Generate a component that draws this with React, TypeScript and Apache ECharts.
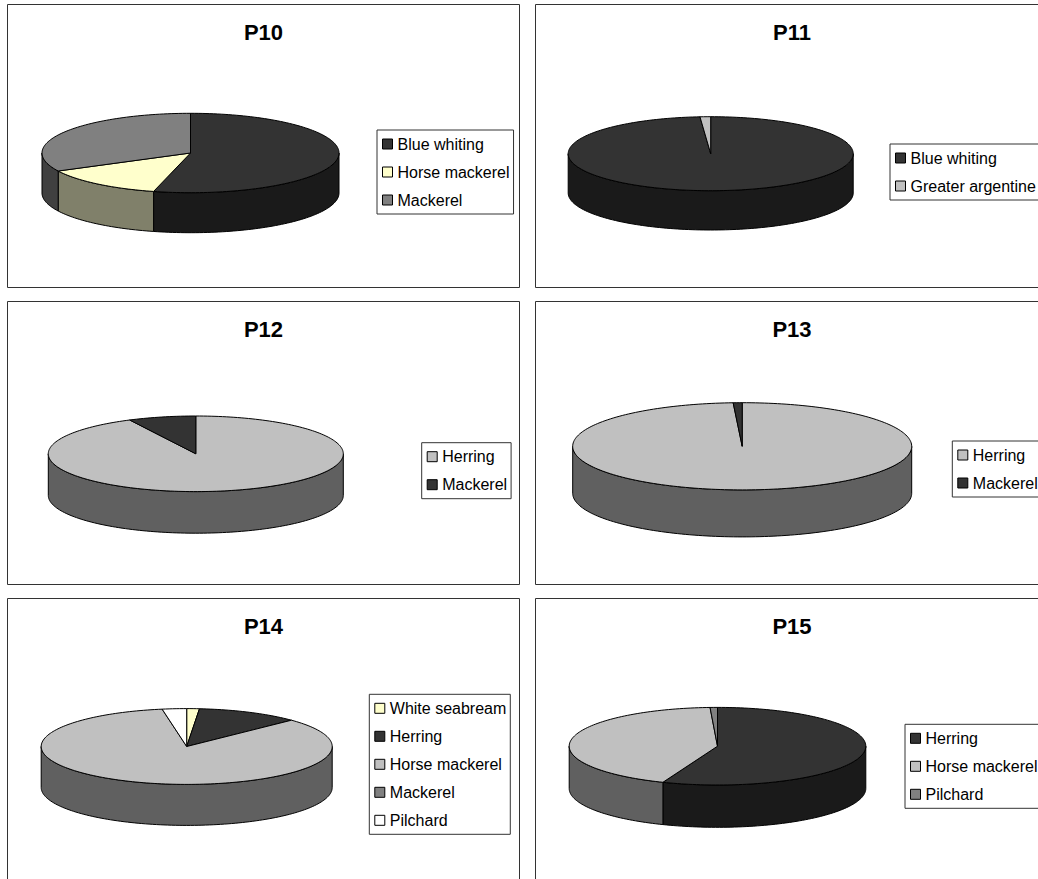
import { useEffect, useRef } from 'react';
import * as echarts from 'echarts';

// slice values (percent of catch)
const P10_NAMES = ['Blue whiting', 'Horse mackerel', 'Mackerel'];
const P10_VALUES = [54, 13.5, 32.5];
const P11_NAMES = ['Blue whiting', 'Greater argentine'];
const P11_VALUES = [98.8, 1.2];
const P12_NAMES = ['Herring', 'Mackerel'];
const P12_VALUES = [92.6, 7.4];
const P13_NAMES = ['Herring', 'Mackerel'];
const P13_VALUES = [99.15, 0.85];
const P14_NAMES = ['White seabream', 'Herring', 'Horse mackerel', 'Mackerel', 'Pilchard'];
const P14_VALUES = [1.4, 11.4, 84.5, 0, 2.7];
const P15_NAMES = ['Herring', 'Horse mackerel', 'Pilchard'];
const P15_VALUES = [56, 43.2, 0.8];

// Excel-like fills, and the darker shade used on the walls
const DARK = '#333333';
const YELLOW = '#ffffcc';
const GREY = '#808080';
const SILVER = '#c0c0c0';
const WHITE = '#ffffff';
const SIDE: Record<string, string> = {
  [DARK]: '#1a1a1a',
  [YELLOW]: '#80806a',
  [GREY]: '#404040',
  [SILVER]: '#606060',
  [WHITE]: '#808080',
};

const FONT = '"Liberation Sans", Arial, sans-serif';

interface PanelSpec {
  title: string;
  names: string[];
  values: number[];
  colors: string[];
  left: number;
  top: number;
  width: number;
  height: number;
  cx: number;
  cy: number;
  rx: number;
  ry: number;
  depth: number;
  legendLeft: number;
  legendTop: number;
}

const PANELS: PanelSpec[] = [
  { title: 'P10', names: P10_NAMES, values: P10_VALUES, colors: [DARK, YELLOW, GREY],
    left: 7, top: 4, width: 513, height: 284, cx: 183.5, cy: 149, rx: 148.5, ry: 39.7, depth: 40, legendLeft: 370, legendTop: 126 },
  { title: 'P11', names: P11_NAMES, values: P11_VALUES, colors: [DARK, SILVER],
    left: 535, top: 4, width: 514, height: 284, cx: 175.7, cy: 149.7, rx: 142.5, ry: 37, depth: 39.3, legendLeft: 355, legendTop: 140 },
  { title: 'P12', names: P12_NAMES, values: P12_VALUES, colors: [SILVER, DARK],
    left: 7, top: 301, width: 513, height: 284, cx: 188.8, cy: 152.8, rx: 147.5, ry: 37.8, depth: 41.6, legendLeft: 414.7, legendTop: 141.7 },
  { title: 'P13', names: P13_NAMES, values: P13_VALUES, colors: [SILVER, DARK],
    left: 535, top: 301, width: 514, height: 284, cx: 207.2, cy: 145.3, rx: 169.5, ry: 43.6, depth: 47, legendLeft: 417.3, legendTop: 140 },
  { title: 'P14', names: P14_NAMES, values: P14_VALUES, colors: [YELLOW, DARK, SILVER, GREY, WHITE],
    left: 7, top: 598, width: 513, height: 284, cx: 179.7, cy: 148.5, rx: 145.5, ry: 37.9, depth: 41, legendLeft: 362.3, legendTop: 96.3 },
  { title: 'P15', names: P15_NAMES, values: P15_VALUES, colors: [DARK, SILVER, GREY],
    left: 535, top: 598, width: 514, height: 284, cx: 182.5, cy: 148.2, rx: 148.3, ry: 38.8, depth: 42.3, legendLeft: 370, legendTop: 126.3 },
];

function ellipsePoint(p: PanelSpec, deg: number, dy = 0) {
  const a = (deg * Math.PI) / 180;
  return [p.cx + p.rx * Math.sin(a), p.cy - p.ry * Math.cos(a) + dy];
}

function arc(p: PanelSpec, from: number, to: number, dy = 0) {
  const n = Math.max(2, Math.ceil((to - from) / 1.5));
  const pts: number[][] = [];
  for (let i = 0; i <= n; i++) pts.push(ellipsePoint(p, from + ((to - from) * i) / n, dy));
  return pts;
}

function buildOption(p: PanelSpec) {
  const total = p.values.reduce((s, v) => s + v, 0);
  let acc = 0;
  const series = p.names.map((name, i) => {
    const start = acc;
    acc += p.values[i];
    const color = p.colors[i];
    return {
      type: 'custom',
      name,
      coordinateSystem: 'none',
      itemStyle: { color },
      data: [[p.values[i], start, total]],
      renderItem: (_params: any, api: any) => {
        const value = api.value(0);
        const a1 = (api.value(1) / api.value(2)) * 360;
        const a2 = ((api.value(1) + value) / api.value(2)) * 360;
        const children: any[] = [];
        if (value > 0) {
          // outer wall, only the front half is visible
          const b1 = Math.max(a1, 90);
          const b2 = Math.min(a2, 270);
          if (b2 > b1) {
            const wall = arc(p, b1, b2).concat(arc(p, b1, b2, p.depth).reverse());
            children.push({
              type: 'polygon',
              z2: 1,
              shape: { points: wall },
              style: { fill: SIDE[color], stroke: '#000', lineWidth: 1, lineJoin: 'round' },
            });
          }
          children.push({
            type: 'polygon',
            z2: 10,
            shape: { points: [[p.cx, p.cy]].concat(arc(p, a1, a2)) },
            style: { fill: color, stroke: '#000', lineWidth: 1, lineJoin: 'round' },
          });
        }
        return { type: 'group', children };
      },
    };
  });

  return {
    animation: false,
    title: {
      text: p.title,
      left: 'center',
      top: 17,
      padding: 0,
      textStyle: { fontFamily: FONT, fontSize: 22, fontWeight: 'bold', color: '#000' },
    },
    legend: {
      orient: 'vertical',
      left: p.legendLeft,
      top: p.legendTop,
      icon: 'rect',
      itemWidth: 10,
      itemHeight: 10,
      itemGap: 12,
      padding: [6, 4, 6, 5],
      borderColor: '#333',
      borderWidth: 1,
      backgroundColor: '#fff',
      selectedMode: false,
      itemStyle: { borderColor: '#000', borderWidth: 1 },
      textStyle: { fontFamily: FONT, fontSize: 16, color: '#000' },
      data: p.names,
    },
    graphic: [
      {
        type: 'rect',
        silent: true,
        shape: { x: 0.5, y: 0.5, width: p.width - 1, height: p.height - 1 },
        style: { fill: 'none', stroke: '#333', lineWidth: 1 },
      },
    ],
    series,
  };
}

function PiePanel({ spec }: { spec: PanelSpec }) {
  const chartRef = useRef<HTMLDivElement>(null);

  useEffect(() => {
    if (!chartRef.current) return;
    const chart = echarts.init(chartRef.current, null, { renderer: 'svg' });
    chart.setOption(buildOption(spec) as any);
    return () => chart.dispose();
  }, [spec]);

  return (
    <div
      ref={chartRef}
      style={{ position: 'absolute', left: spec.left, top: spec.top, width: spec.width, height: spec.height }}
    />
  );
}

export default function App() {
  return (
    <div
      style={{
        position: 'fixed',
        left: 0,
        top: 0,
        width: 1038,
        height: 879,
        overflow: 'hidden',
        background: '#fff',
      }}
    >
      {PANELS.map((spec) => (
        <PiePanel key={spec.title} spec={spec} />
      ))}
    </div>
  );
}
